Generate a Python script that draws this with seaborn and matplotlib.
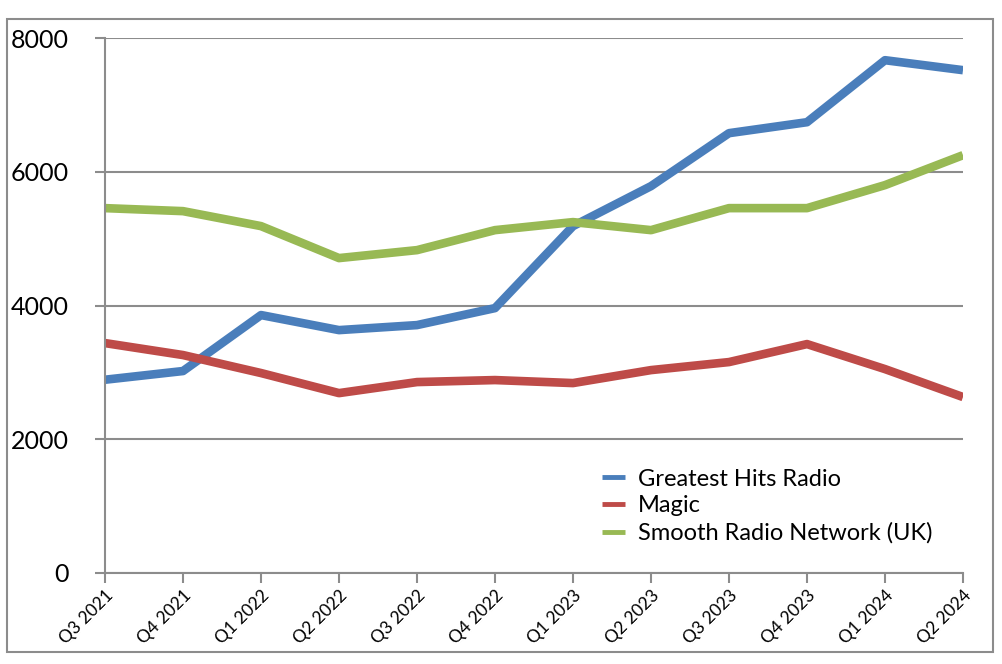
import numpy as np
import pandas as pd
import matplotlib
matplotlib.use("Agg")
import matplotlib.pyplot as plt
import seaborn as sns
from matplotlib.patches import Rectangle

quarters = ["Q3 2021", "Q4 2021", "Q1 2022", "Q2 2022", "Q3 2022", "Q4 2022",
            "Q1 2023", "Q2 2023", "Q3 2023", "Q4 2023", "Q1 2024", "Q2 2024"]
greatest_hits = [2890, 3020, 3857, 3632, 3707, 3961, 5187, 5785, 6577, 6741, 7668, 7519]
magic = [3438, 3259, 2990, 2690, 2855, 2885, 2840, 3034, 3154, 3423, 3049, 2631]
smooth = [5456, 5411, 5187, 4709, 4828, 5127, 5247, 5127, 5456, 5456, 5800, 6248]

series_names = ["Greatest Hits Radio", "Magic", "Smooth Radio Network (UK)"]
colors = ["#4A7EBB", "#BE4B48", "#98B954"]

df = pd.DataFrame({
    "quarter": quarters * 3,
    "x": list(range(len(quarters))) * 3,
    "value": greatest_hits + magic + smooth,
    "station": [n for n in series_names for _ in quarters],
})

sns.set_style("white")
plt.rcParams["font.family"] = ["Lato", "DejaVu Sans"]
plt.rcParams["text.color"] = "black"

fig = plt.figure(figsize=(10.02, 6.64), dpi=100)
ax = fig.add_axes([105 / 1002, 91 / 664, 858 / 1002, 535 / 664])

sns.lineplot(data=df, x="x", y="value", hue="station", palette=colors,
             linewidth=6.2, ax=ax, legend=True, solid_capstyle="butt")

grid_c = "#8C8C8C"
ax.set_xlim(0, len(quarters) - 1)
ax.set_ylim(0, 8000)
ax.set_yticks([0, 2000, 4000, 6000, 8000])
ax.set_xticks(range(len(quarters)))
ax.set_xticklabels(quarters, rotation=45, ha="right", rotation_mode="anchor", fontsize=12.5)
ax.tick_params(axis="y", labelsize=18, length=7, width=1.5, color=grid_c, labelcolor="black",
               pad=19, direction="out", left=True)
ax.tick_params(axis="x", length=7, width=1.5, color=grid_c, labelcolor="black",
               pad=3, direction="out", bottom=True)
ax.set_xlabel("")
ax.set_ylabel("")
ax.yaxis.grid(True, color=grid_c, linewidth=1.5)
ax.xaxis.grid(False)
ax.set_axisbelow(True)
for side in ["top", "right"]:
    ax.spines[side].set_visible(False)
for side in ["left", "bottom"]:
    ax.spines[side].set_color(grid_c)
    ax.spines[side].set_linewidth(1.5)

leg = ax.legend(loc="upper left", bbox_to_anchor=(0.555, 0.235), frameon=False,
                fontsize=17, handlelength=0.95, handletextpad=0.55, labelspacing=0.25)
for line in leg.get_lines():
    line.set_linewidth(3.5)
for t in leg.get_texts():
    t.set_color("black")

fig.patches.append(Rectangle((7 / 1002, 12 / 664), 986 / 1002, 633 / 664,
                             transform=fig.transFigure, fill=False,
                             edgecolor=grid_c, linewidth=1.5))

fig.savefig("out.png", dpi=100)
